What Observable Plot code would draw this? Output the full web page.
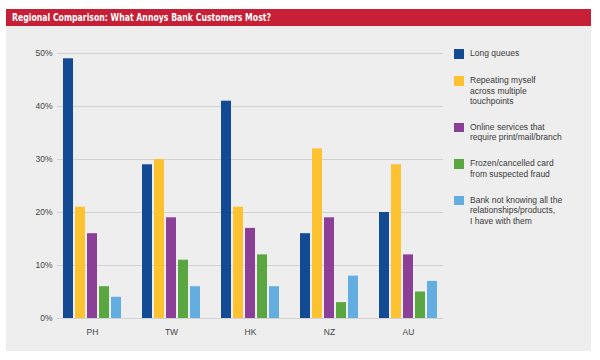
<!DOCTYPE html>
<html><head><meta charset="utf-8">
<script src="https://cdn.jsdelivr.net/npm/d3@7"></script>
<script src="https://cdn.jsdelivr.net/npm/@observablehq/plot@0.6"></script>
<style>
html,body{margin:0;padding:0;background:#fff;}
#panel{position:absolute;left:6px;top:9px;width:585px;height:342px;background:#eeeeee;}
#title{position:absolute;left:0;top:0;width:585px;height:17px;background:#c71f35;color:#fff;font:bold 11px "Liberation Sans Narrow","DejaVu Sans Condensed","Liberation Sans",sans-serif;line-height:17px;padding-left:6px;box-sizing:border-box;white-space:nowrap;}
#title span{display:inline-block;transform-origin:0 50%;}
#bg,#fg{position:absolute;left:0;top:30px;}
#legend{position:absolute;left:454px;top:49px;font:8.5px "Liberation Sans",Arial,sans-serif;color:#3a3a3a;}
.item{display:flex;align-items:flex-start;}
.sw{width:9.5px;height:9.5px;margin-right:6.5px;flex:none;}
.tx{line-height:10.5px;margin-top:-1px;white-space:nowrap;}
</style></head><body>
<div id="panel"><div id="title"><span></span></div></div>
<div id="bg"></div><div id="fg"></div><div id="legend"></div>
<script>
const titleText = "Regional Comparison: What Annoys Bank Customers Most?";
const countries = ["PH", "TW", "HK", "NZ", "AU"];
const series = [
  "Long queues",
  "Repeating myself across multiple touchpoints",
  "Online services that require print/mail/branch",
  "Frozen/cancelled card from suspected fraud",
  "Bank not knowing all the relationships/products, I have with them"
];
const legendLines = [
  ["Long queues"],
  ["Repeating myself", "across multiple", "touchpoints"],
  ["Online services that", "require print/mail/branch"],
  ["Frozen/cancelled card", "from suspected fraud"],
  ["Bank not knowing all the", "relationships/products,", "I have with them"]
];
// values in percent, in country order PH, TW, HK, NZ, AU
const longQueues   = [49, 29, 41, 16, 20];
const repeating    = [21, 30, 21, 32, 29];
const onlineNeeds  = [16, 19, 17, 19, 12];
const frozenCard   = [6, 11, 12, 3, 5];
const notKnowing   = [4, 6, 6, 8, 7];
const yTicks = [0, 10, 20, 30, 40, 50];
const colors = ["#124a93", "#fdc22f", "#8b3f96", "#5aa640", "#64ade0"];

const seriesValues = [longQueues, repeating, onlineNeeds, frozenCard, notKnowing];
const data = countries.flatMap((c, i) => series.map((s, j) => ({country: c, series: s, value: seriesValues[j][i] / 100})));

const tspan = document.querySelector("#title span");
tspan.textContent = titleText;
const tw = tspan.getBoundingClientRect().width;
tspan.style.transform = "scaleX(" + Math.min(1, 259 / tw) + ")";

const W = 450, H = 320;
const margins = {marginLeft: 57, marginRight: 7, marginTop: 23, marginBottom: 32};
const style = {background: "transparent", fontFamily: "'Liberation Sans', Arial, sans-serif", fontSize: "8.5px", color: "#444", overflow: "visible"};

const bg = Plot.plot({
  width: W, height: H, ...margins, style,
  y: {domain: [0, 0.5], ticks: yTicks.map(v => v / 100), tickFormat: d3.format(".0%"), tickSize: 0, tickPadding: 5, label: null},
  marks: [
    Plot.ruleY(yTicks.map(v => v / 100), {stroke: "#d2d2d2", strokeWidth: 1})
  ]
});
document.getElementById("bg").appendChild(bg);

const fg = Plot.plot({
  width: W, height: H, ...margins, style,
  facet: {data, x: "country"},
  fx: {domain: countries, paddingInner: 0.215, paddingOuter: 0.05, label: null, tickSize: 0, tickPadding: 10.5, axis: "bottom"},
  x: {domain: series, paddingInner: 0.17, paddingOuter: 0, axis: null},
  y: {domain: [0, 0.5], axis: null},
  color: {domain: series, range: colors},
  marks: [
    Plot.barY(data, {x: "series", y: "value", fill: "series"})
  ]
});
document.getElementById("fg").appendChild(fg);

const legend = document.getElementById("legend");
const gaps = [17.5, 16, 16.5, 16.5, 0];
series.forEach((s, i) => {
  const item = document.createElement("div");
  item.className = "item";
  item.style.marginBottom = gaps[i] + "px";
  const sw = document.createElement("div");
  sw.className = "sw";
  sw.style.background = colors[i];
  const tx = document.createElement("div");
  tx.className = "tx";
  tx.innerHTML = legendLines[i].join("<br>");
  item.appendChild(sw); item.appendChild(tx);
  legend.appendChild(item);
});
</script>
</body></html>
